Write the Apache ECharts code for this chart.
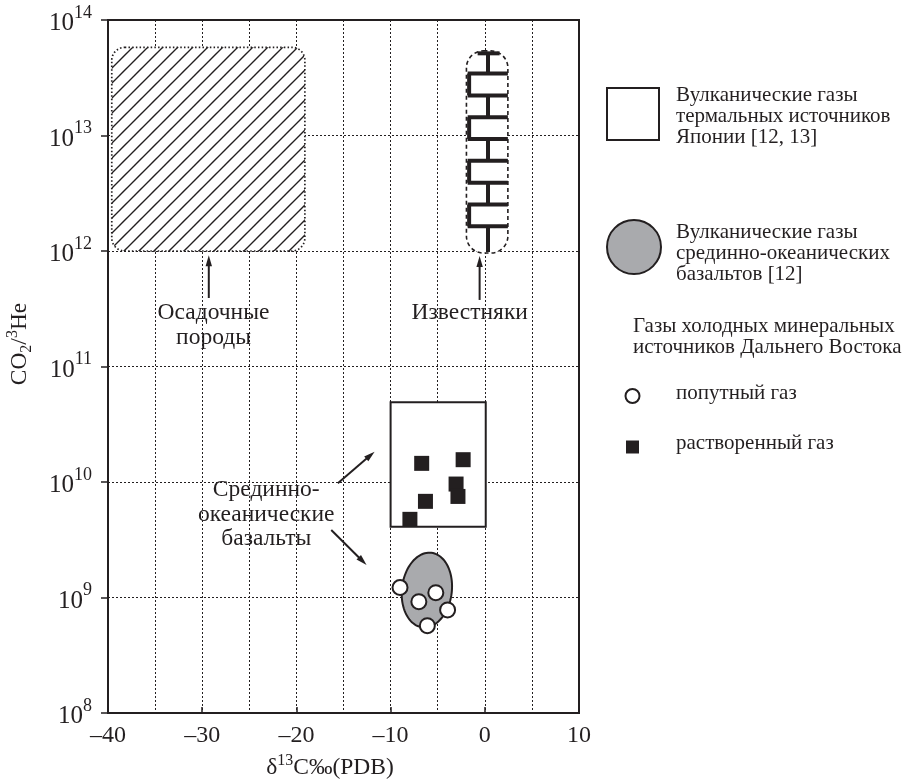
<!DOCTYPE html>
<html>
<head>
<meta charset="utf-8">
<script src="https://cdn.jsdelivr.net/npm/echarts@6/dist/echarts.min.js"></script>
<style>
  html, body { margin: 0; padding: 0; background: #fff; }
  #chart { width: 907px; height: 781px; }
</style>
</head>
<body>
<div id="chart"></div>
<script>
const INK = '#231f20';
const GREY = '#a9aaad';
const FONT = '"Liberation Serif", "Times New Roman", serif';

// Axis ticks
const xTicks = [-40, -30, -20, -10, 0, 10];
const yExponents = [8, 9, 10, 11, 12, 13, 14];

// Dissolved gas samples (filled squares): δ13C, CO2/3He
const dissolvedX = [-6.7, -2.3, -3.05, -2.85, -6.3, -7.95];
const dissolvedY = [1.45e10, 1.56e10, 9.6e9, 7.5e9, 6.8e9, 4.75e9];

// Associated gas samples (open circles)
const associatedX = [-9.0, -7.0, -5.2, -3.95, -6.1];
const associatedY = [1.22e9, 9.2e8, 1.1e9, 7.8e8, 5.7e8];

// Reference fields: [xMin, yMin, xMax, yMax]
const sedimentField = [-39.6, 1.0e12, -19.1, 5.8e13];
const limestoneField = [-1.95, 9.6e11, 2.45, 5.4e13];
const japanField = [-10.0, 4.1e9, 0.1, 4.9e10];
// Mid-ocean ridge basalt field: centre x, centre y, half-width (‰), half-height (decades)
const morbField = [-6.15, 1.16e9, 2.65, 0.325];

// Arrows: [xTail, yTail, xTip, yTip]
const arrows = [
  [-29.3, 3.92e11, -29.3, 9.2e11],
  [-0.55, 3.77e11, -0.55, 9.06e11],
  [-15.6, 9.75e9, -11.7, 1.83e10],
  [-16.3, 3.84e9, -12.55, 1.91e9]
];

// Field captions (anchored at the centre of the first line)
const captionX = [-28.8, -1.6, -23.2];
const captionY = [2.9e11, 2.9e11, 8.53e9];
const captionText = ['Осадочные\nпороды', 'Известняки', 'Срединно-\nокеанические\nбазальты'];

function hatchPattern() {
  const s = 15;
  const c = document.createElement('canvas');
  c.width = s; c.height = s;
  const g = c.getContext('2d');
  g.strokeStyle = INK;
  g.lineWidth = 1.4;
  g.beginPath();
  g.moveTo(-2, s + 2); g.lineTo(s + 2, -2);
  g.moveTo(-2, 2); g.lineTo(2, -2);
  g.moveTo(s - 2, s + 2); g.lineTo(s + 2, s - 2);
  g.stroke();
  return c;
}
const hatch = hatchPattern();

function boxPx(api) {
  const p0 = api.coord([api.value(0), api.value(1)]);
  const p1 = api.coord([api.value(2), api.value(3)]);
  return {
    x: Math.min(p0[0], p1[0]), y: Math.min(p0[1], p1[1]),
    width: Math.abs(p1[0] - p0[0]), height: Math.abs(p1[1] - p0[1])
  };
}

function renderSediment(params, api) {
  const b = boxPx(api);
  const shape = Object.assign({ r: 13 }, b);
  return {
    type: 'group',
    children: [
      { type: 'rect', shape, style: { fill: '#fff', stroke: null } },
      { type: 'rect', shape, style: { fill: { image: hatch, repeat: 'repeat' }, stroke: INK, lineWidth: 1.7, lineDash: [1.5, 2.2] } }
    ]
  };
}

function renderLimestone(params, api) {
  const b = boxPx(api);
  const x = b.x, y = b.y, w = b.width, h = b.height;
  const cx = x + 0.52 * w, lx = x + 0.065 * w;
  const bars = [];
  for (let i = 0; i < 8; i++) bars.push(y + h * (0.112 + i * 0.108));
  const lw = 4;
  const children = [
    { type: 'rect', shape: { x, y, width: w, height: h, r: 17 }, style: { fill: '#fff', stroke: null } }
  ];
  const seg = (x1, y1, x2, y2) => children.push({
    type: 'line', shape: { x1, y1, x2, y2 }, style: { stroke: INK, lineWidth: lw }
  });
  const capY = y + 0.012 * h;
  seg(x + 0.27 * w, capY, x + 0.8 * w, capY);
  seg(cx, capY, cx, bars[0]);
  bars.forEach(by => seg(x + 0.03 * w, by, x + w, by));
  for (let i = 0; i < bars.length - 1; i++) {
    const vx = (i % 2 === 0) ? lx : cx;
    seg(vx, bars[i], vx, bars[i + 1]);
  }
  seg(cx, bars[bars.length - 1], cx, y + h - 1);
  children.push({
    type: 'rect', shape: { x, y, width: w, height: h, r: 17 },
    style: { fill: null, stroke: INK, lineWidth: 1.6, lineDash: [4, 3] }
  });
  return { type: 'group', children };
}

function renderJapan(params, api) {
  const b = boxPx(api);
  return { type: 'rect', shape: b, style: { fill: '#fff', stroke: INK, lineWidth: 2 } };
}

function renderEllipse(params, api) {
  const cxv = api.value(0), cyv = api.value(1), hx = api.value(2), hd = api.value(3);
  const c = api.coord([cxv, cyv]);
  const r = api.coord([cxv + hx, cyv]);
  const t = api.coord([cxv, cyv * Math.pow(10, hd)]);
  const rx = r[0] - c[0], ry = c[1] - t[1];
  const tilt = 0.12;
  const pts = [];
  for (let k = 0; k < 96; k++) {
    const a = (k / 96) * Math.PI * 2;
    const ex = rx * Math.cos(a), ey = ry * Math.sin(a);
    pts.push([c[0] + ex * Math.cos(tilt) - ey * Math.sin(tilt), c[1] + ex * Math.sin(tilt) + ey * Math.cos(tilt)]);
  }
  return { type: 'polygon', shape: { points: pts }, style: { fill: GREY, stroke: INK, lineWidth: 2 } };
}

function renderArrow(params, api) {
  const a = api.coord([api.value(0), api.value(1)]);
  const b = api.coord([api.value(2), api.value(3)]);
  const dx = b[0] - a[0], dy = b[1] - a[1];
  const len = Math.hypot(dx, dy);
  const ux = dx / len, uy = dy / len;
  const hl = 11, hw = 3.2;
  const base = [b[0] - ux * hl, b[1] - uy * hl];
  return {
    type: 'group',
    children: [
      { type: 'line', shape: { x1: a[0], y1: a[1], x2: base[0] + ux * 2, y2: base[1] + uy * 2 }, style: { stroke: INK, lineWidth: 2 } },
      { type: 'polygon', shape: { points: [b, [base[0] - uy * hw, base[1] + ux * hw], [base[0] + uy * hw, base[1] - ux * hw]] }, style: { fill: INK } }
    ]
  };
}

function renderCaption(params, api) {
  const p = api.coord([api.value(0), api.value(1)]);
  const lh = 24.5;
  return {
    type: 'text', x: p[0], y: p[1] - lh / 2,
    style: {
      text: captionText[params.dataIndex], fill: INK, align: 'center', verticalAlign: 'top',
      fontFamily: FONT, fontSize: 23.5, lineHeight: lh
    }
  };
}

const dashStyle = { color: INK, width: 1, type: [2, 2] };

const option = {
  animation: false,
  backgroundColor: '#fff',
  grid: { left: 108, right: 328, top: 20, bottom: 68, show: true, borderColor: INK, borderWidth: 2, outerBoundsMode: 'none' },
  xAxis: {
    type: 'value', min: -40, max: 10, interval: 10,
    axisLine: { show: true, onZero: false, lineStyle: { color: INK, width: 2 } },
    axisTick: { show: true, inside: true, length: 6, lineStyle: { color: INK, width: 1.5 } },
    axisLabel: {
      color: INK, fontFamily: FONT, fontSize: 24, margin: 11,
      formatter: v => xTicks.includes(v) ? (v < 0 ? '–' + Math.abs(v) : String(v)) : ''
    },
    splitLine: { show: true, lineStyle: dashStyle },
    minorTick: { show: false, splitNumber: 2 },
    minorSplitLine: { show: true, lineStyle: dashStyle }
  },
  yAxis: {
    type: 'log', logBase: 10, min: 1e8, max: 1e14, interval: 1, splitNumber: 6,
    axisLine: { show: true, onZero: false, lineStyle: { color: INK, width: 2 } },
    axisTick: { show: true, inside: false, length: 7, lineStyle: { color: INK, width: 1.5 } },
    axisLabel: {
      margin: 16, color: INK,
      formatter: v => {
        const e = Math.round(Math.log10(v));
        return yExponents.includes(e) ? '{b|10}{s|' + e + '}' : '';
      },
      rich: {
        b: { fontFamily: FONT, fontSize: 25, color: INK, lineHeight: 32, verticalAlign: 'bottom' },
        s: { fontFamily: FONT, fontSize: 18, color: INK, lineHeight: 32, verticalAlign: 'top' }
      }
    },
    splitLine: { show: true, lineStyle: dashStyle }
  },
  graphic: [
    // axis titles
    {
      type: 'text', x: 20, y: 344, rotation: Math.PI / 2,
      style: {
        text: '{t|CO}{sub|2}{t|/}{sup|3}{t|He}', align: 'center', verticalAlign: 'middle',
        rich: {
          t: { fontFamily: FONT, fontSize: 23.5, fill: INK, lineHeight: 30, verticalAlign: 'middle' },
          sub: { fontFamily: FONT, fontSize: 16, fill: INK, lineHeight: 30, verticalAlign: 'bottom' },
          sup: { fontFamily: FONT, fontSize: 16, fill: INK, lineHeight: 30, verticalAlign: 'top' }
        }
      }
    },
    {
      type: 'text', x: 330, y: 768,
      style: {
        text: '{t|δ}{sup|13}{t|C‰(PDB)}', align: 'center', verticalAlign: 'middle',
        rich: {
          t: { fontFamily: FONT, fontSize: 23.5, fill: INK, lineHeight: 30, verticalAlign: 'middle' },
          sup: { fontFamily: FONT, fontSize: 16, fill: INK, lineHeight: 30, verticalAlign: 'top' }
        }
      }
    },
    // key
    { type: 'rect', shape: { x: 607, y: 88, width: 52, height: 52 }, style: { fill: '#fff', stroke: INK, lineWidth: 2 } },
    {
      type: 'text', x: 676, y: 84.5,
      style: { text: 'Вулканические газы\nтермальных источников\nЯпонии [12, 13]', fill: INK, fontFamily: FONT, fontSize: 21, lineHeight: 21, align: 'left', verticalAlign: 'top' }
    },
    { type: 'circle', shape: { cx: 634, cy: 247, r: 27 }, style: { fill: GREY, stroke: INK, lineWidth: 2 } },
    {
      type: 'text', x: 676, y: 221.5,
      style: { text: 'Вулканические газы\nсрединно-океанических\nбазальтов [12]', fill: INK, fontFamily: FONT, fontSize: 21, lineHeight: 21, align: 'left', verticalAlign: 'top' }
    },
    {
      type: 'text', x: 633, y: 316.5,
      style: { text: 'Газы холодных минеральных\nисточников Дальнего Востока', fill: INK, fontFamily: FONT, fontSize: 21, lineHeight: 20.5, align: 'left', verticalAlign: 'top' }
    },
    { type: 'circle', shape: { cx: 632.5, cy: 396, r: 7 }, style: { fill: '#fff', stroke: INK, lineWidth: 2 } },
    { type: 'text', x: 676, y: 393.5, style: { text: 'попутный газ', fill: INK, fontFamily: FONT, fontSize: 21, align: 'left', verticalAlign: 'middle' } },
    { type: 'rect', shape: { x: 626, y: 440.5, width: 13, height: 13 }, style: { fill: INK } },
    { type: 'text', x: 676, y: 443.5, style: { text: 'растворенный газ', fill: INK, fontFamily: FONT, fontSize: 21, align: 'left', verticalAlign: 'middle' } }
  ],
  series: [
    { type: 'custom', renderItem: renderSediment, data: [sedimentField], silent: true, z: 2 },
    { type: 'custom', renderItem: renderLimestone, data: [limestoneField], silent: true, z: 2 },
    { type: 'custom', renderItem: renderJapan, data: [japanField], silent: true, z: 2 },
    { type: 'custom', renderItem: renderEllipse, data: [morbField], silent: true, z: 2 },
    { type: 'custom', renderItem: renderArrow, data: arrows, silent: true, z: 3 },
    { type: 'custom', renderItem: renderCaption, data: captionX.map((x, i) => [x, captionY[i]]), silent: true, z: 3 },
    {
      type: 'scatter', symbol: 'rect', symbolSize: 15, z: 4,
      itemStyle: { color: INK, opacity: 1 },
      data: dissolvedX.map((x, i) => [x, dissolvedY[i]])
    },
    {
      type: 'scatter', symbol: 'circle', symbolSize: 15, z: 5,
      itemStyle: { color: '#fff', borderColor: INK, borderWidth: 2, opacity: 1 },
      data: associatedX.map((x, i) => [x, associatedY[i]])
    }
  ]
};

const chart = echarts.init(document.getElementById('chart'), null, { renderer: 'canvas' });
chart.setOption(option);
</script>
</body>
</html>
